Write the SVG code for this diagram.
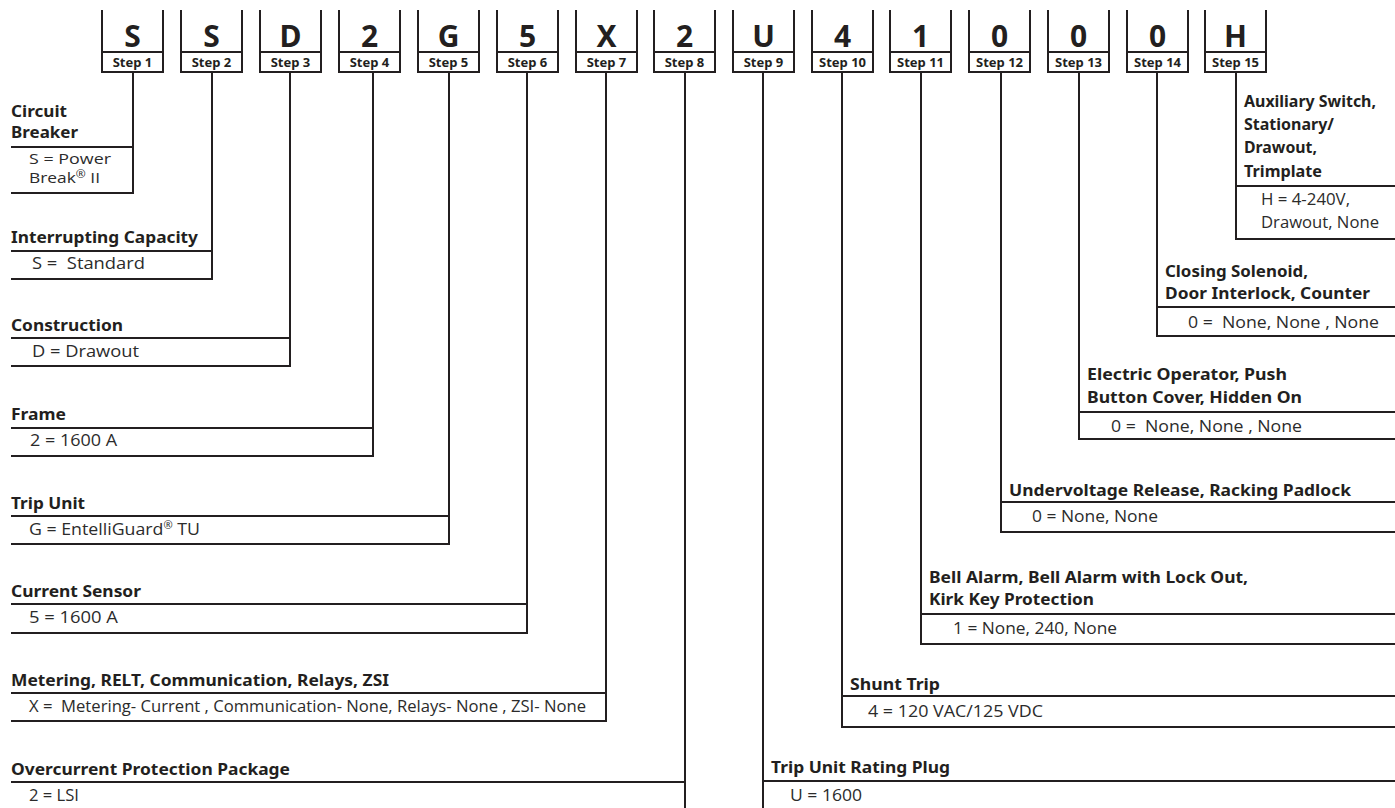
<svg xmlns="http://www.w3.org/2000/svg" width="1395" height="808" viewBox="0 0 1395 808">
<style>
.box{fill:none;stroke:#231f20;stroke-width:2}
.ln{fill:none;stroke:#231f20;stroke-width:2}
.big{font-family:"Noto Sans","DejaVu Sans",sans-serif;font-weight:700;font-size:30px;fill:#231f20;text-anchor:middle}
.stp{font-family:"Noto Sans","DejaVu Sans",sans-serif;font-weight:700;font-size:13px;fill:#231f20;text-anchor:middle}
.t{font-family:"Noto Sans","DejaVu Sans",sans-serif;font-weight:700;font-size:16.5px;fill:#231f20;white-space:pre}
.v{font-family:"Open Sans","Noto Sans",sans-serif;font-weight:400;font-size:16px;fill:#2b2b2b;white-space:pre}
.vs{font-size:14.5px}
.sup{font-size:10px}
</style>
<rect width="1395" height="808" fill="#fff"/>

<g id="steps">
<g id="step1"><path class="box" d="M102,10V72H163V10M102,52H163"/><text class="big" x="132.5" y="47">S</text><text class="stp" x="132.5" y="67">Step 1</text></g>
<g id="step2"><path class="box" d="M181,10V72H242V10M181,52H242"/><text class="big" x="211.5" y="47">S</text><text class="stp" x="211.5" y="67">Step 2</text></g>
<g id="step3"><path class="box" d="M260,10V72H321V10M260,52H321"/><text class="big" x="290.5" y="47">D</text><text class="stp" x="290.5" y="67">Step 3</text></g>
<g id="step4"><path class="box" d="M339,10V72H400V10M339,52H400"/><text class="big" x="369.5" y="47">2</text><text class="stp" x="369.5" y="67">Step 4</text></g>
<g id="step5"><path class="box" d="M418,10V72H479V10M418,52H479"/><text class="big" x="448.5" y="47">G</text><text class="stp" x="448.5" y="67">Step 5</text></g>
<g id="step6"><path class="box" d="M497,10V72H558V10M497,52H558"/><text class="big" x="527.5" y="47">5</text><text class="stp" x="527.5" y="67">Step 6</text></g>
<g id="step7"><path class="box" d="M576,10V72H637V10M576,52H637"/><text class="big" x="606.5" y="47">X</text><text class="stp" x="606.5" y="67">Step 7</text></g>
<g id="step8"><path class="box" d="M654,10V72H715V10M654,52H715"/><text class="big" x="684.5" y="47">2</text><text class="stp" x="684.5" y="67">Step 8</text></g>
<g id="step9"><path class="box" d="M733,10V72H794V10M733,52H794"/><text class="big" x="763.5" y="47">U</text><text class="stp" x="763.5" y="67">Step 9</text></g>
<g id="step10"><path class="box" d="M812,10V72H873V10M812,52H873"/><text class="big" x="842.5" y="47">4</text><text class="stp" x="842.5" y="67">Step 10</text></g>
<g id="step11"><path class="box" d="M890,10V72H951V10M890,52H951"/><text class="big" x="920.5" y="47">1</text><text class="stp" x="920.5" y="67">Step 11</text></g>
<g id="step12"><path class="box" d="M969,10V72H1030V10M969,52H1030"/><text class="big" x="999.5" y="47">0</text><text class="stp" x="999.5" y="67">Step 12</text></g>
<g id="step13"><path class="box" d="M1048,10V72H1109V10M1048,52H1109"/><text class="big" x="1078.5" y="47">0</text><text class="stp" x="1078.5" y="67">Step 13</text></g>
<g id="step14"><path class="box" d="M1127,10V72H1188V10M1127,52H1188"/><text class="big" x="1157.5" y="47">0</text><text class="stp" x="1157.5" y="67">Step 14</text></g>
<g id="step15"><path class="box" d="M1205,10V72H1266V10M1205,52H1266"/><text class="big" x="1235.5" y="47">H</text><text class="stp" x="1235.5" y="67">Step 15</text></g>
</g>

<g id="connectors">
<path class="ln" d="M133,72V193"/>
<path class="ln" d="M212,72V279"/>
<path class="ln" d="M290,72V366"/>
<path class="ln" d="M373,72V456"/>
<path class="ln" d="M449,72V544"/>
<path class="ln" d="M527,72V633"/>
<path class="ln" d="M606,72V721"/>
<path class="ln" d="M685,72V808"/>
<path class="ln" d="M763,72V808"/>
<path class="ln" d="M842,72V727"/>
<path class="ln" d="M921,72V644"/>
<path class="ln" d="M1001,72V532"/>
<path class="ln" d="M1079,72V439"/>
<path class="ln" d="M1157,72V336"/>
<path class="ln" d="M1236,72V239"/>
</g>

<g id="circuit-breaker">
<path class="ln" d="M11,147H134M11,193H134"/>
<text class="t" x="11" y="117" textLength="56" lengthAdjust="spacingAndGlyphs">Circuit</text>
<text class="t" x="11" y="138" textLength="67" lengthAdjust="spacingAndGlyphs">Breaker</text>
<text class="v vs" x="29" y="164" textLength="82" lengthAdjust="spacingAndGlyphs">S = Power</text>
<text class="v vs" x="29" y="183" textLength="71" lengthAdjust="spacingAndGlyphs">Break<tspan class="sup" dy="-5">®</tspan><tspan dy="5"> II</tspan></text>
</g>
<g id="interrupting-capacity">
<path class="ln" d="M11,251H213M11,279H213"/>
<text class="t" x="11" y="243" textLength="187" lengthAdjust="spacingAndGlyphs">Interrupting Capacity</text>
<text class="v" x="32" y="269" textLength="113" lengthAdjust="spacingAndGlyphs">S =  Standard</text>
</g>
<g id="construction">
<path class="ln" d="M11,338H291M11,366H291"/>
<text class="t" x="11" y="331" textLength="112" lengthAdjust="spacingAndGlyphs">Construction</text>
<text class="v" x="32" y="357" textLength="107" lengthAdjust="spacingAndGlyphs">D = Drawout</text>
</g>
<g id="frame">
<path class="ln" d="M11,428H374M11,456H374"/>
<text class="t" x="11" y="420" textLength="55" lengthAdjust="spacingAndGlyphs">Frame</text>
<text class="v" x="30" y="446" textLength="87" lengthAdjust="spacingAndGlyphs">2 = 1600 A</text>
</g>
<g id="trip-unit">
<path class="ln" d="M11,516H450M11,544H450"/>
<text class="t" x="11" y="509" textLength="74" lengthAdjust="spacingAndGlyphs">Trip Unit</text>
<text class="v" x="29" y="535" textLength="171" lengthAdjust="spacingAndGlyphs">G = EntelliGuard<tspan class="sup" dy="-6">®</tspan><tspan dy="6"> TU</tspan></text>
</g>
<g id="current-sensor">
<path class="ln" d="M11,604H528M11,633H528"/>
<text class="t" x="11" y="597" textLength="130" lengthAdjust="spacingAndGlyphs">Current Sensor</text>
<text class="v" x="29" y="623" textLength="89" lengthAdjust="spacingAndGlyphs">5 = 1600 A</text>
</g>
<g id="metering">
<path class="ln" d="M11,693H607M11,721H607"/>
<text class="t" x="11" y="686" textLength="378" lengthAdjust="spacingAndGlyphs">Metering, RELT, Communication, Relays, ZSI</text>
<text class="v" x="29" y="712" textLength="557" lengthAdjust="spacingAndGlyphs">X =  Metering- Current , Communication- None, Relays- None , ZSI- None</text>
</g>
<g id="overcurrent">
<path class="ln" d="M11,782H686"/>
<text class="t" x="11" y="775" textLength="279" lengthAdjust="spacingAndGlyphs">Overcurrent Protection Package</text>
<text class="v" x="29" y="801" textLength="50" lengthAdjust="spacingAndGlyphs">2 = LSI</text>
</g>

<g id="auxiliary-switch">
<path class="ln" d="M1235,186H1395M1235,239H1395"/>
<text class="t" x="1244" y="107" textLength="132" lengthAdjust="spacingAndGlyphs">Auxiliary Switch,</text>
<text class="t" x="1244" y="130" textLength="90" lengthAdjust="spacingAndGlyphs">Stationary/</text>
<text class="t" x="1244" y="153" textLength="73" lengthAdjust="spacingAndGlyphs">Drawout,</text>
<text class="t" x="1244" y="177" textLength="78" lengthAdjust="spacingAndGlyphs">Trimplate</text>
<text class="v" x="1261" y="205" textLength="89" lengthAdjust="spacingAndGlyphs">H = 4-240V,</text>
<text class="v" x="1261" y="228" textLength="118" lengthAdjust="spacingAndGlyphs">Drawout, None</text>
</g>
<g id="closing-solenoid">
<path class="ln" d="M1156,307H1395M1156,336H1395"/>
<text class="t" x="1165" y="277" textLength="143" lengthAdjust="spacingAndGlyphs">Closing Solenoid,</text>
<text class="t" x="1165" y="299" textLength="205" lengthAdjust="spacingAndGlyphs">Door Interlock, Counter</text>
<text class="v" x="1188" y="328" textLength="191" lengthAdjust="spacingAndGlyphs">0 =  None, None , None</text>
</g>
<g id="electric-operator">
<path class="ln" d="M1078,412H1395M1078,439H1395"/>
<text class="t" x="1087" y="380" textLength="200" lengthAdjust="spacingAndGlyphs">Electric Operator, Push</text>
<text class="t" x="1087" y="403" textLength="215" lengthAdjust="spacingAndGlyphs">Button Cover, Hidden On</text>
<text class="v" x="1111" y="432" textLength="191" lengthAdjust="spacingAndGlyphs">0 =  None, None , None</text>
</g>
<g id="undervoltage-release">
<path class="ln" d="M1000,502H1395M1000,532H1395"/>
<text class="t" x="1009" y="496" textLength="342" lengthAdjust="spacingAndGlyphs">Undervoltage Release, Racking Padlock</text>
<text class="v" x="1032" y="522" textLength="126" lengthAdjust="spacingAndGlyphs">0 = None, None</text>
</g>
<g id="bell-alarm">
<path class="ln" d="M920,614H1395M920,644H1395"/>
<text class="t" x="929" y="583" textLength="319" lengthAdjust="spacingAndGlyphs">Bell Alarm, Bell Alarm with Lock Out,</text>
<text class="t" x="929" y="605" textLength="165" lengthAdjust="spacingAndGlyphs">Kirk Key Protection</text>
<text class="v" x="953" y="634" textLength="164" lengthAdjust="spacingAndGlyphs">1 = None, 240, None</text>
</g>
<g id="shunt-trip">
<path class="ln" d="M841,696H1395M841,727H1395"/>
<text class="t" x="850" y="690" textLength="90" lengthAdjust="spacingAndGlyphs">Shunt Trip</text>
<text class="v" x="868" y="717" textLength="175" lengthAdjust="spacingAndGlyphs">4 = 120 VAC/125 VDC</text>
</g>
<g id="trip-unit-rating-plug">
<path class="ln" d="M762,781H1395"/>
<text class="t" x="771" y="773" textLength="179" lengthAdjust="spacingAndGlyphs">Trip Unit Rating Plug</text>
<text class="v" x="790" y="801" textLength="72" lengthAdjust="spacingAndGlyphs">U = 1600</text>
</g>
</svg>
